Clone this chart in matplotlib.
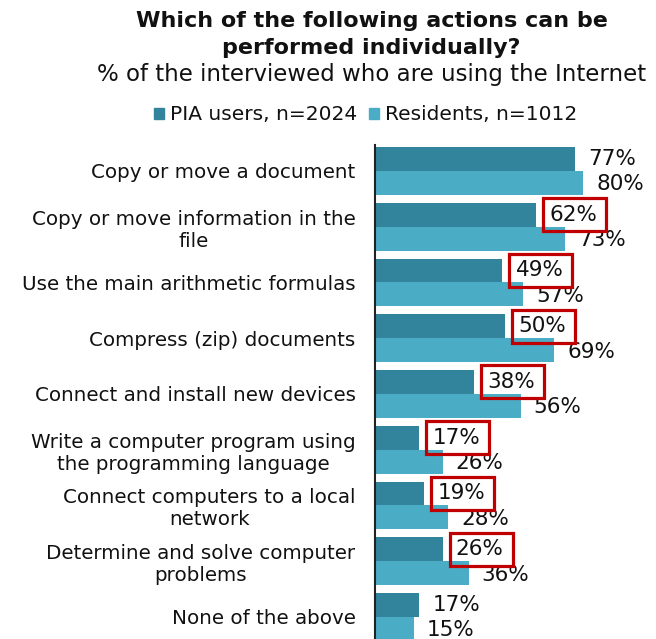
import matplotlib
matplotlib.use("Agg")
import matplotlib.pyplot as plt
from matplotlib.patches import Patch, Rectangle
from matplotlib.transforms import ScaledTranslation

categories = [
    "Copy or move a document",
    "Copy or move information in the\nfile",
    "Use the main arithmetic formulas",
    "Compress (zip) documents",
    "Connect and install new devices",
    "Write a computer program using\nthe programming language",
    "Connect computers to a local\nnetwork",
    "Determine and solve computer\nproblems",
    "None of the above",
]
pia_users = [77, 62, 49, 50, 38, 17, 19, 26, 17]
residents = [80, 73, 57, 69, 56, 26, 28, 36, 15]
highlighted = [False, True, True, True, True, True, True, True, False]

series_names = ["PIA users, n=2024", "Residents, n=1012"]
dark_teal = "#31849B"
light_teal = "#4BACC6"
box_red = "#C00000"
text_color = "#111111"

plt.rcParams["font.family"] = "DejaVu Sans"

DPI = 100
fig = plt.figure(figsize=(6.56, 6.39), dpi=DPI)
ax = fig.add_axes([0.5716, 0.0, 0.3964, 494 / 639])

bar_h = 0.43
y = list(range(len(categories)))
ax.barh([v - bar_h / 2 for v in y], pia_users, height=bar_h, color=dark_teal)
ax.barh([v + bar_h / 2 for v in y], residents, height=bar_h, color=light_teal)

ax.set_xlim(0, 100)
ax.set_ylim(8.395, -0.466)

val_fs = 15.5
for i, (a, b, hl) in enumerate(zip(pia_users, residents, highlighted)):
    ax.annotate(f"{a}%", xy=(a, i - bar_h / 2), xytext=(9.5, 0),
                textcoords="offset points", ha="left", va="center",
                fontsize=val_fs, color=text_color)
    ax.annotate(f"{b}%", xy=(b, i + bar_h / 2), xytext=(9.5, -1),
                textcoords="offset points", ha="left", va="center",
                fontsize=val_fs, color=text_color)
    if hl:
        # red frame anchored at the end of the dark bar, sized in inches
        tr = fig.dpi_scale_trans + ScaledTranslation(a, i - bar_h / 2, ax.transData)
        ax.add_patch(Rectangle((7 / DPI, -16.5 / DPI), 63 / DPI, 33 / DPI,
                               transform=tr, fill=False, edgecolor=box_red,
                               linewidth=2.3, clip_on=False, zorder=5))

ax.set_yticks(y)
ax.set_yticklabels(categories, fontsize=14.3, multialignment="center",
                   linespacing=1.2, color=text_color)
ax.tick_params(axis="y", length=0, pad=14)
ax.set_xticks([])
for s in ["top", "right", "bottom"]:
    ax.spines[s].set_visible(False)
ax.spines["left"].set_linewidth(1.5)
ax.spines["left"].set_color("#222222")

cx = 371.5 / 656
fig.text(cx, 1 - 21 / 639, "Which of the following actions can be",
         ha="center", va="center", fontsize=16, fontweight="bold", color=text_color)
fig.text(cx, 1 - 48 / 639, "performed individually?",
         ha="center", va="center", fontsize=16, fontweight="bold", color=text_color)
fig.text(cx, 1 - 75 / 639, "% of the interviewed who are using the Internet",
         ha="center", va="center", fontsize=16.5, color=text_color)

handles = [Patch(color=dark_teal), Patch(color=light_teal)]
fig.legend(handles, series_names, loc="center", bbox_to_anchor=(365.5 / 656, 1 - 115 / 639),
           ncol=2, frameon=False, fontsize=14.5, handlelength=0.5, handleheight=0.5,
           handletextpad=0.3, columnspacing=0.55, labelcolor=text_color)

fig.savefig("out.png", dpi=DPI)
